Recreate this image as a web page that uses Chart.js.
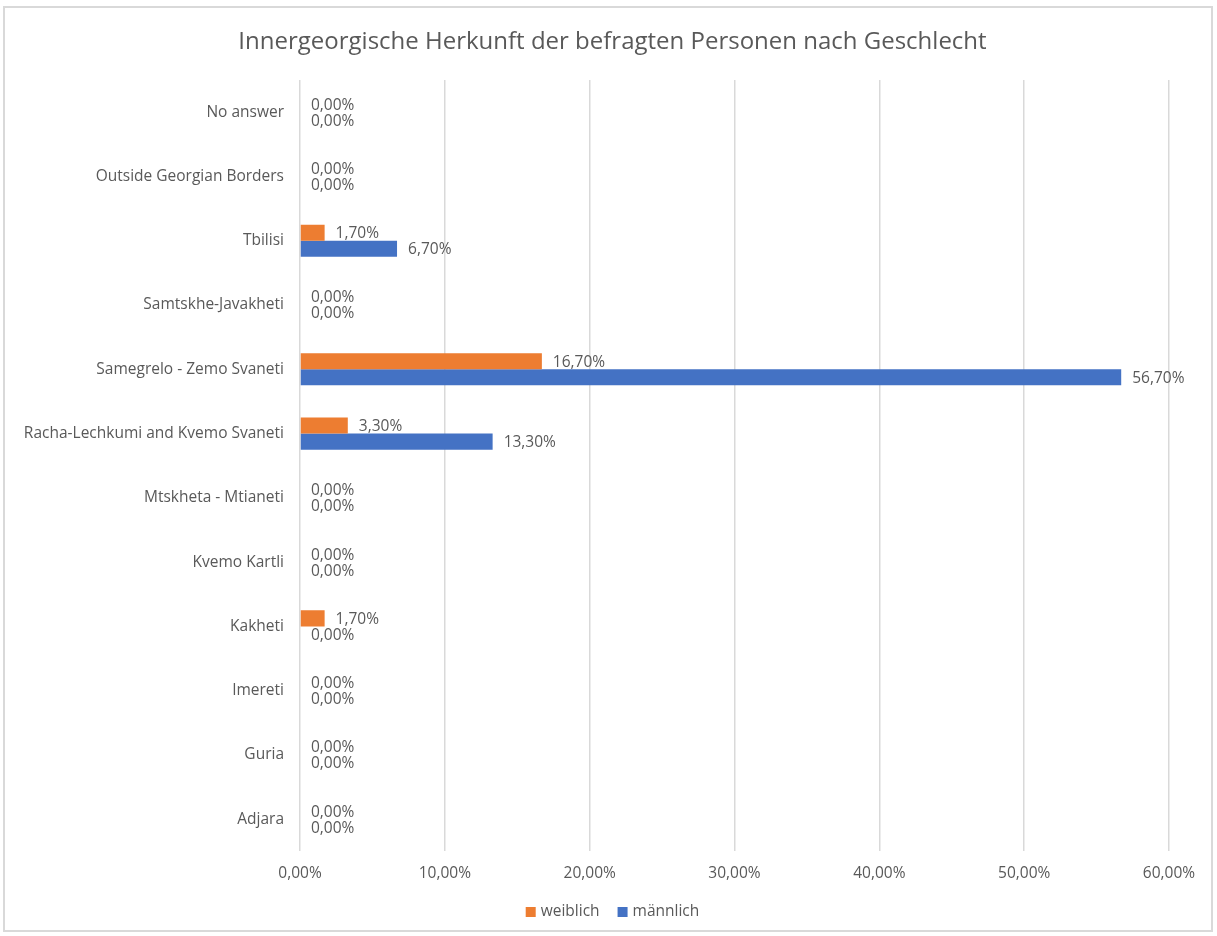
<!DOCTYPE html>
<html>
<head>
<meta charset="utf-8">
<script src="https://cdn.jsdelivr.net/npm/chart.js@4"></script>
<style>
  body { margin: 0; background: #fff; }
  #wrap { position: relative; width: 1217px; height: 936px; }
  #frame { position: absolute; left: 3px; top: 6px; width: 1210px; height: 926px; border: 2px solid #d9d9d9; box-sizing: border-box; pointer-events: none; }
</style>
</head>
<body>
<div id="wrap">
  <canvas id="herkunftChart" width="1217" height="936"></canvas>
  <div id="frame"></div>
</div>
<script>
"use strict"

// categories top to bottom, as in the picture
const regions = [
    'No answer',
    'Outside Georgian Borders',
    'Tbilisi',
    'Samtskhe-Javakheti',
    'Samegrelo - Zemo Svaneti',
    'Racha-Lechkumi and Kvemo Svaneti',
    'Mtskheta - Mtianeti',
    'Kvemo Kartli',
    'Kakheti',
    'Imereti',
    'Guria',
    'Adjara'
]
// values in percent
const weiblich = [0, 0, 1.7, 0, 16.7, 3.3, 0, 0, 1.7, 0, 0, 0]
const maennlich = [0, 0, 6.7, 0, 56.7, 13.3, 0, 0, 0, 0, 0, 0]
const xTicks = [0, 10, 20, 30, 40, 50, 60]

const chartTitle = 'Innergeorgische Herkunft der befragten Personen nach Geschlecht'
const textColor = '#595959'
const fontFamily = "'Open Sans', 'Noto Sans', sans-serif"

function fmt(v) {
    return v.toFixed(2).replace('.', ',') + '%'
}

// value labels at the end of each bar
const valueLabels = {
    id: 'valueLabels',
    afterDatasetsDraw(chart) {
        const ctx = chart.ctx
        ctx.save()
        ctx.font = '15.5px ' + fontFamily
        ctx.fillStyle = textColor
        ctx.textAlign = 'left'
        ctx.textBaseline = 'middle'
        chart.data.datasets.forEach((ds, i) => {
            const meta = chart.getDatasetMeta(i)
            meta.data.forEach((bar, j) => {
                ctx.fillText(fmt(ds.data[j]), bar.x + 11, bar.y + 1)
            })
        })
        ctx.restore()
    }
}

// title and legend centred on the whole canvas (like the Excel original)
const titleAndLegend = {
    id: 'titleAndLegend',
    afterDraw(chart) {
        const ctx = chart.ctx
        const mid = chart.width / 2 + 4
        ctx.save()
        ctx.fillStyle = textColor
        ctx.textBaseline = 'middle'
        ctx.textAlign = 'center'
        ctx.font = '24px ' + fontFamily
        ctx.fillText(chartTitle, mid, 42)

        // legend
        ctx.font = '15.5px ' + fontFamily
        ctx.textAlign = 'left'
        const items = chart.data.datasets.map(ds => ({
            label: ds.label,
            color: ds.backgroundColor,
            w: 10 + 5 + ctx.measureText(ds.label).width
        }))
        const gap = 18
        const total = items.reduce((s, it) => s + it.w, 0) + gap * (items.length - 1)
        let x = mid - total / 2
        const y = 912
        items.forEach(it => {
            ctx.fillStyle = it.color
            ctx.fillRect(x, y - 5, 10, 10)
            ctx.fillStyle = textColor
            ctx.fillText(it.label, x + 15, y)
            x += it.w + gap
        })
        ctx.restore()
    }
}

const ctx = document.getElementById('herkunftChart')
const myChart = new Chart(ctx, {
    type: 'bar',
    data: {
        labels: regions,
        datasets: [{
            label: 'weiblich',
            data: weiblich,
            backgroundColor: '#ED7D31',
            borderWidth: 0
        },
        {
            label: 'männlich',
            data: maennlich,
            backgroundColor: '#4472C4',
            borderWidth: 0
        }]
    },
    plugins: [valueLabels, titleAndLegend],
    options: {
        indexAxis: 'y',
        responsive: false,
        animation: false,
        layout: {
            padding: { left: 0, right: 48, top: 80, bottom: 40 }
        },
        plugins: {
            title: { display: false },
            legend: { display: false },
            tooltip: { enabled: false }
        },
        datasets: {
            bar: { categoryPercentage: 0.5, barPercentage: 1 }
        },
        scales: {
            x: {
                min: 0,
                max: 60,
                afterBuildTicks(scale) {
                    scale.ticks = xTicks.map(v => ({ value: v }))
                },
                ticks: {
                    color: textColor,
                    font: { family: fontFamily, size: 15.5 },
                    padding: 13,
                    callback: v => fmt(v)
                },
                grid: { color: '#d9d9d9', lineWidth: 1.5, drawTicks: false },
                border: { display: false }
            },
            y: {
                afterFit(scale) { scale.width = 300 },
                ticks: {
                    color: textColor,
                    font: { family: fontFamily, size: 15.5 },
                    padding: 8
                },
                grid: { display: false },
                border: { display: false }
            }
        }
    }
})
</script>
</body>
</html>
